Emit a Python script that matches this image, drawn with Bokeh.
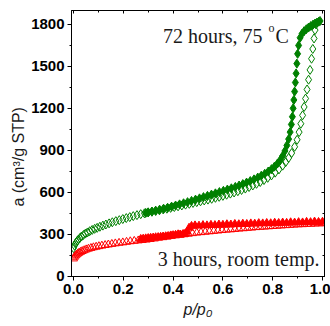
from bokeh.plotting import figure
from bokeh.models import Range1d, LinearAxis, SingleIntervalTicker, PrintfTickFormatter, Label, CustomJSTickFormatter
from bokeh.embed import file_html
from bokeh.resources import INLINE

# 72 hours, 75 C : adsorption (open diamonds)
g_ads_x = [0.000, 0.004, 0.008, 0.012, 0.016, 0.020, 0.026, 0.032, 0.040, 0.048, 0.056, 0.065, 0.075, 0.085,
           0.095, 0.106, 0.118, 0.130, 0.143, 0.156, 0.170, 0.184, 0.198, 0.212, 0.226, 0.240, 0.255, 0.270,
           0.285, 0.300, 0.315, 0.330, 0.345, 0.360, 0.375, 0.390, 0.405, 0.420, 0.435, 0.450, 0.465, 0.480,
           0.495, 0.510, 0.525, 0.540, 0.555, 0.570, 0.585, 0.600, 0.615, 0.630, 0.645, 0.660, 0.675, 0.690,
           0.705, 0.720, 0.735, 0.750, 0.765, 0.780, 0.795, 0.810, 0.825, 0.840, 0.852, 0.864, 0.876, 0.888,
           0.898, 0.906, 0.913, 0.920, 0.926, 0.932, 0.938, 0.944, 0.950, 0.956, 0.961, 0.966, 0.970, 0.974]
g_ads_y = [200, 218, 232, 244, 254, 262, 273, 283, 294, 304, 312, 321, 330, 338,
           345, 353, 361, 369, 377, 385, 393, 400, 408, 415, 422, 429, 436, 443,
           449, 455, 460, 466, 471, 477, 482, 488, 494, 499, 505, 511, 517, 523,
           529, 535, 541, 547, 553, 560, 567, 574, 582, 590, 598, 607, 616, 626,
           637, 648, 660, 673, 687, 703, 720, 740, 763, 790, 815, 845, 880, 925,
           975, 1030, 1090, 1150, 1210, 1270, 1335, 1405, 1475, 1555, 1625, 1700, 1760, 1800]

# 72 hours, 75 C : desorption (filled diamonds)
g_des_x = [0.990, 0.985, 0.978, 0.970, 0.962, 0.953, 0.944, 0.935, 0.926, 0.918, 0.910, 0.904, 0.900,
           0.897, 0.894, 0.891, 0.888, 0.885, 0.882, 0.879, 0.875, 0.870, 0.864, 0.857, 0.849, 0.840,
           0.830, 0.819, 0.807, 0.795, 0.782, 0.768, 0.754, 0.740, 0.725, 0.710, 0.695, 0.680, 0.665,
           0.650, 0.634, 0.618, 0.602, 0.586, 0.570, 0.554, 0.538, 0.522, 0.506, 0.490, 0.474, 0.458,
           0.442, 0.426, 0.410, 0.394, 0.378, 0.362, 0.346, 0.330, 0.315, 0.300, 0.290]
g_des_y = [1825, 1820, 1814, 1807, 1799, 1789, 1778, 1766, 1752, 1735, 1705, 1650, 1590,
           1520, 1450, 1385, 1320, 1260, 1200, 1140, 1085, 1030, 980, 935, 895, 860,
           830, 805, 783, 765, 748, 732, 718, 705, 692, 680, 669, 658, 648,
           638, 628, 619, 610, 601, 592, 583, 574, 565, 556, 547, 538, 529,
           521, 513, 505, 497, 489, 482, 475, 468, 462, 456, 452]

# 3 hours, room temp. : adsorption (open triangles)
r_ads_x = [0.000, 0.004, 0.008, 0.012, 0.017, 0.022, 0.028, 0.035, 0.043, 0.051, 0.060, 0.070, 0.080, 0.091,
           0.102, 0.114, 0.127, 0.140, 0.154, 0.168, 0.183, 0.198, 0.213, 0.228, 0.244, 0.260, 0.276, 0.292,
           0.308, 0.325, 0.342, 0.359, 0.376, 0.393, 0.410, 0.427, 0.444, 0.461, 0.478, 0.495, 0.512, 0.529,
           0.546, 0.563, 0.580, 0.597, 0.614, 0.631, 0.648, 0.665, 0.682, 0.699, 0.716, 0.733, 0.750, 0.767,
           0.784, 0.801, 0.818, 0.835, 0.852, 0.869, 0.886, 0.903, 0.920, 0.937, 0.954, 0.971, 0.988, 1.000]
r_ads_y = [125, 137, 146, 153, 160, 166, 172, 178, 184, 190, 195, 200, 205, 209,
           213, 217, 221, 225, 229, 233, 237, 240, 244, 248, 251, 254, 257, 260,
           264, 268, 273, 277, 281, 286, 290, 294, 298, 302, 306, 310, 313, 316,
           319, 322, 325, 328, 331, 333, 336, 339, 341, 344, 346, 349, 351, 353,
           355, 357, 359, 361, 363, 365, 367, 369, 370, 372, 373, 375, 376, 377]

# 3 hours, room temp. : desorption (filled triangles)
r_des_x = [1.000, 0.984, 0.968, 0.952, 0.936, 0.920, 0.904, 0.888, 0.872, 0.856, 0.840, 0.824, 0.808, 0.792,
           0.776, 0.760, 0.744, 0.728, 0.712, 0.696, 0.680, 0.664, 0.648, 0.632, 0.616, 0.600, 0.584, 0.568,
           0.552, 0.536, 0.520, 0.504, 0.488, 0.474, 0.464, 0.456, 0.448, 0.440, 0.430, 0.420, 0.410, 0.400,
           0.390, 0.380, 0.370, 0.360, 0.350, 0.340, 0.330, 0.320, 0.310, 0.300, 0.290, 0.280, 0.270]
r_des_y = [388, 386, 389, 385, 387, 383, 385, 382, 384, 380, 382, 379, 381, 377,
           379, 376, 378, 374, 376, 372, 374, 370, 372, 368, 370, 366, 368, 364,
           366, 362, 364, 360, 362, 358, 345, 318, 302, 300, 296, 298, 294, 292,
           290, 286, 284, 282, 280, 278, 277, 275, 273, 271, 269, 267, 265]

x_ticks_step = 0.2
y_ticks_step = 300

GREEN = "#008000"
RED = "#ff0000"
TXT = "#1a1a1a"

p = figure(width=330, height=326, output_backend="svg", toolbar_location=None,
           x_range=Range1d(-0.008, 1.008), y_range=Range1d(-3, 1900),
           min_border_left=71, min_border_right=6, min_border_top=10, min_border_bottom=50)
p.xgrid.visible = False
p.ygrid.visible = False
p.outline_line_color = "black"
p.outline_line_width = 1
p.background_fill_color = "white"
p.border_fill_color = "white"

p.xaxis.ticker = SingleIntervalTicker(interval=x_ticks_step, num_minor_ticks=2)
p.yaxis.ticker = SingleIntervalTicker(interval=y_ticks_step, num_minor_ticks=2)
p.xaxis.formatter = PrintfTickFormatter(format="%.1f")
for ax in (p.xaxis[0], p.yaxis[0]):
    ax.major_label_text_font = "Liberation Sans"
    ax.major_label_text_font_style = "bold"
    ax.major_label_text_font_size = "15px"
    ax.major_label_text_color = "black"
    ax.major_tick_in = 0
    ax.major_tick_out = 4
    ax.minor_tick_in = 0
    ax.minor_tick_out = 2
    ax.major_label_standoff = 3
    ax.axis_line_color = "black"
    ax.major_tick_line_color = "black"
    ax.minor_tick_line_color = "black"
    ax.axis_label_text_font = "Liberation Sans"
    ax.axis_label_text_font_size = "16px"
    ax.axis_label_text_color = TXT

# trailing no-break spaces push the visible title a little down, as in the reference
p.yaxis.axis_label = "a (cm³/g STP)" + "\u00a0" * 6
p.yaxis.axis_label_text_font_style = "normal"
p.yaxis.axis_label_standoff = 1
p.xaxis.axis_label = "p/p₀"
p.xaxis.axis_label_text_font_style = "italic"
p.xaxis.axis_label_standoff = 4

for loc, step in (("right", y_ticks_step), ("above", x_ticks_step)):
    ax = LinearAxis(ticker=SingleIntervalTicker(interval=step, num_minor_ticks=2),
                    formatter=CustomJSTickFormatter(code="return ''"))
    ax.major_label_standoff = 0
    ax.major_tick_in = 3
    ax.major_tick_out = 0
    ax.minor_tick_in = 2
    ax.minor_tick_out = 0
    ax.axis_line_color = "black"
    p.add_layout(ax, loc)

# data
p.scatter(g_ads_x, g_ads_y, marker="diamond", size=9, fill_color=None, line_color=GREEN, line_width=1)
p.scatter(g_des_x, g_des_y, marker="diamond", size=9, fill_color=GREEN, line_color=GREEN, line_width=1)
p.scatter(r_ads_x, r_ads_y, marker="triangle", size=8, fill_color=None, line_color=RED, line_width=1)
p.scatter(r_des_x, r_des_y, marker="triangle", size=8, fill_color=RED, line_color=RED, line_width=1)

serif = "Liberation Serif"
p.add_layout(Label(x=191, y=241, x_units="screen", y_units="screen", text="72 hours, 75",
                   text_align="right", text_baseline="alphabetic", text_font=serif,
                   text_font_size="20px", text_color=TXT))
p.add_layout(Label(x=197, y=249, x_units="screen", y_units="screen", text="o",
                   text_align="left", text_baseline="alphabetic", text_font=serif,
                   text_font_size="12px", text_color=TXT))
p.add_layout(Label(x=204, y=241, x_units="screen", y_units="screen", text="C",
                   text_align="left", text_baseline="alphabetic", text_font=serif,
                   text_font_size="20px", text_color=TXT))
p.add_layout(Label(x=248, y=18, x_units="screen", y_units="screen", text="3 hours, room temp.",
                   text_align="right", text_baseline="alphabetic", text_font=serif,
                   text_font_size="20px", text_color=TXT))

open("out.html", "w").write(file_html(p, INLINE))
